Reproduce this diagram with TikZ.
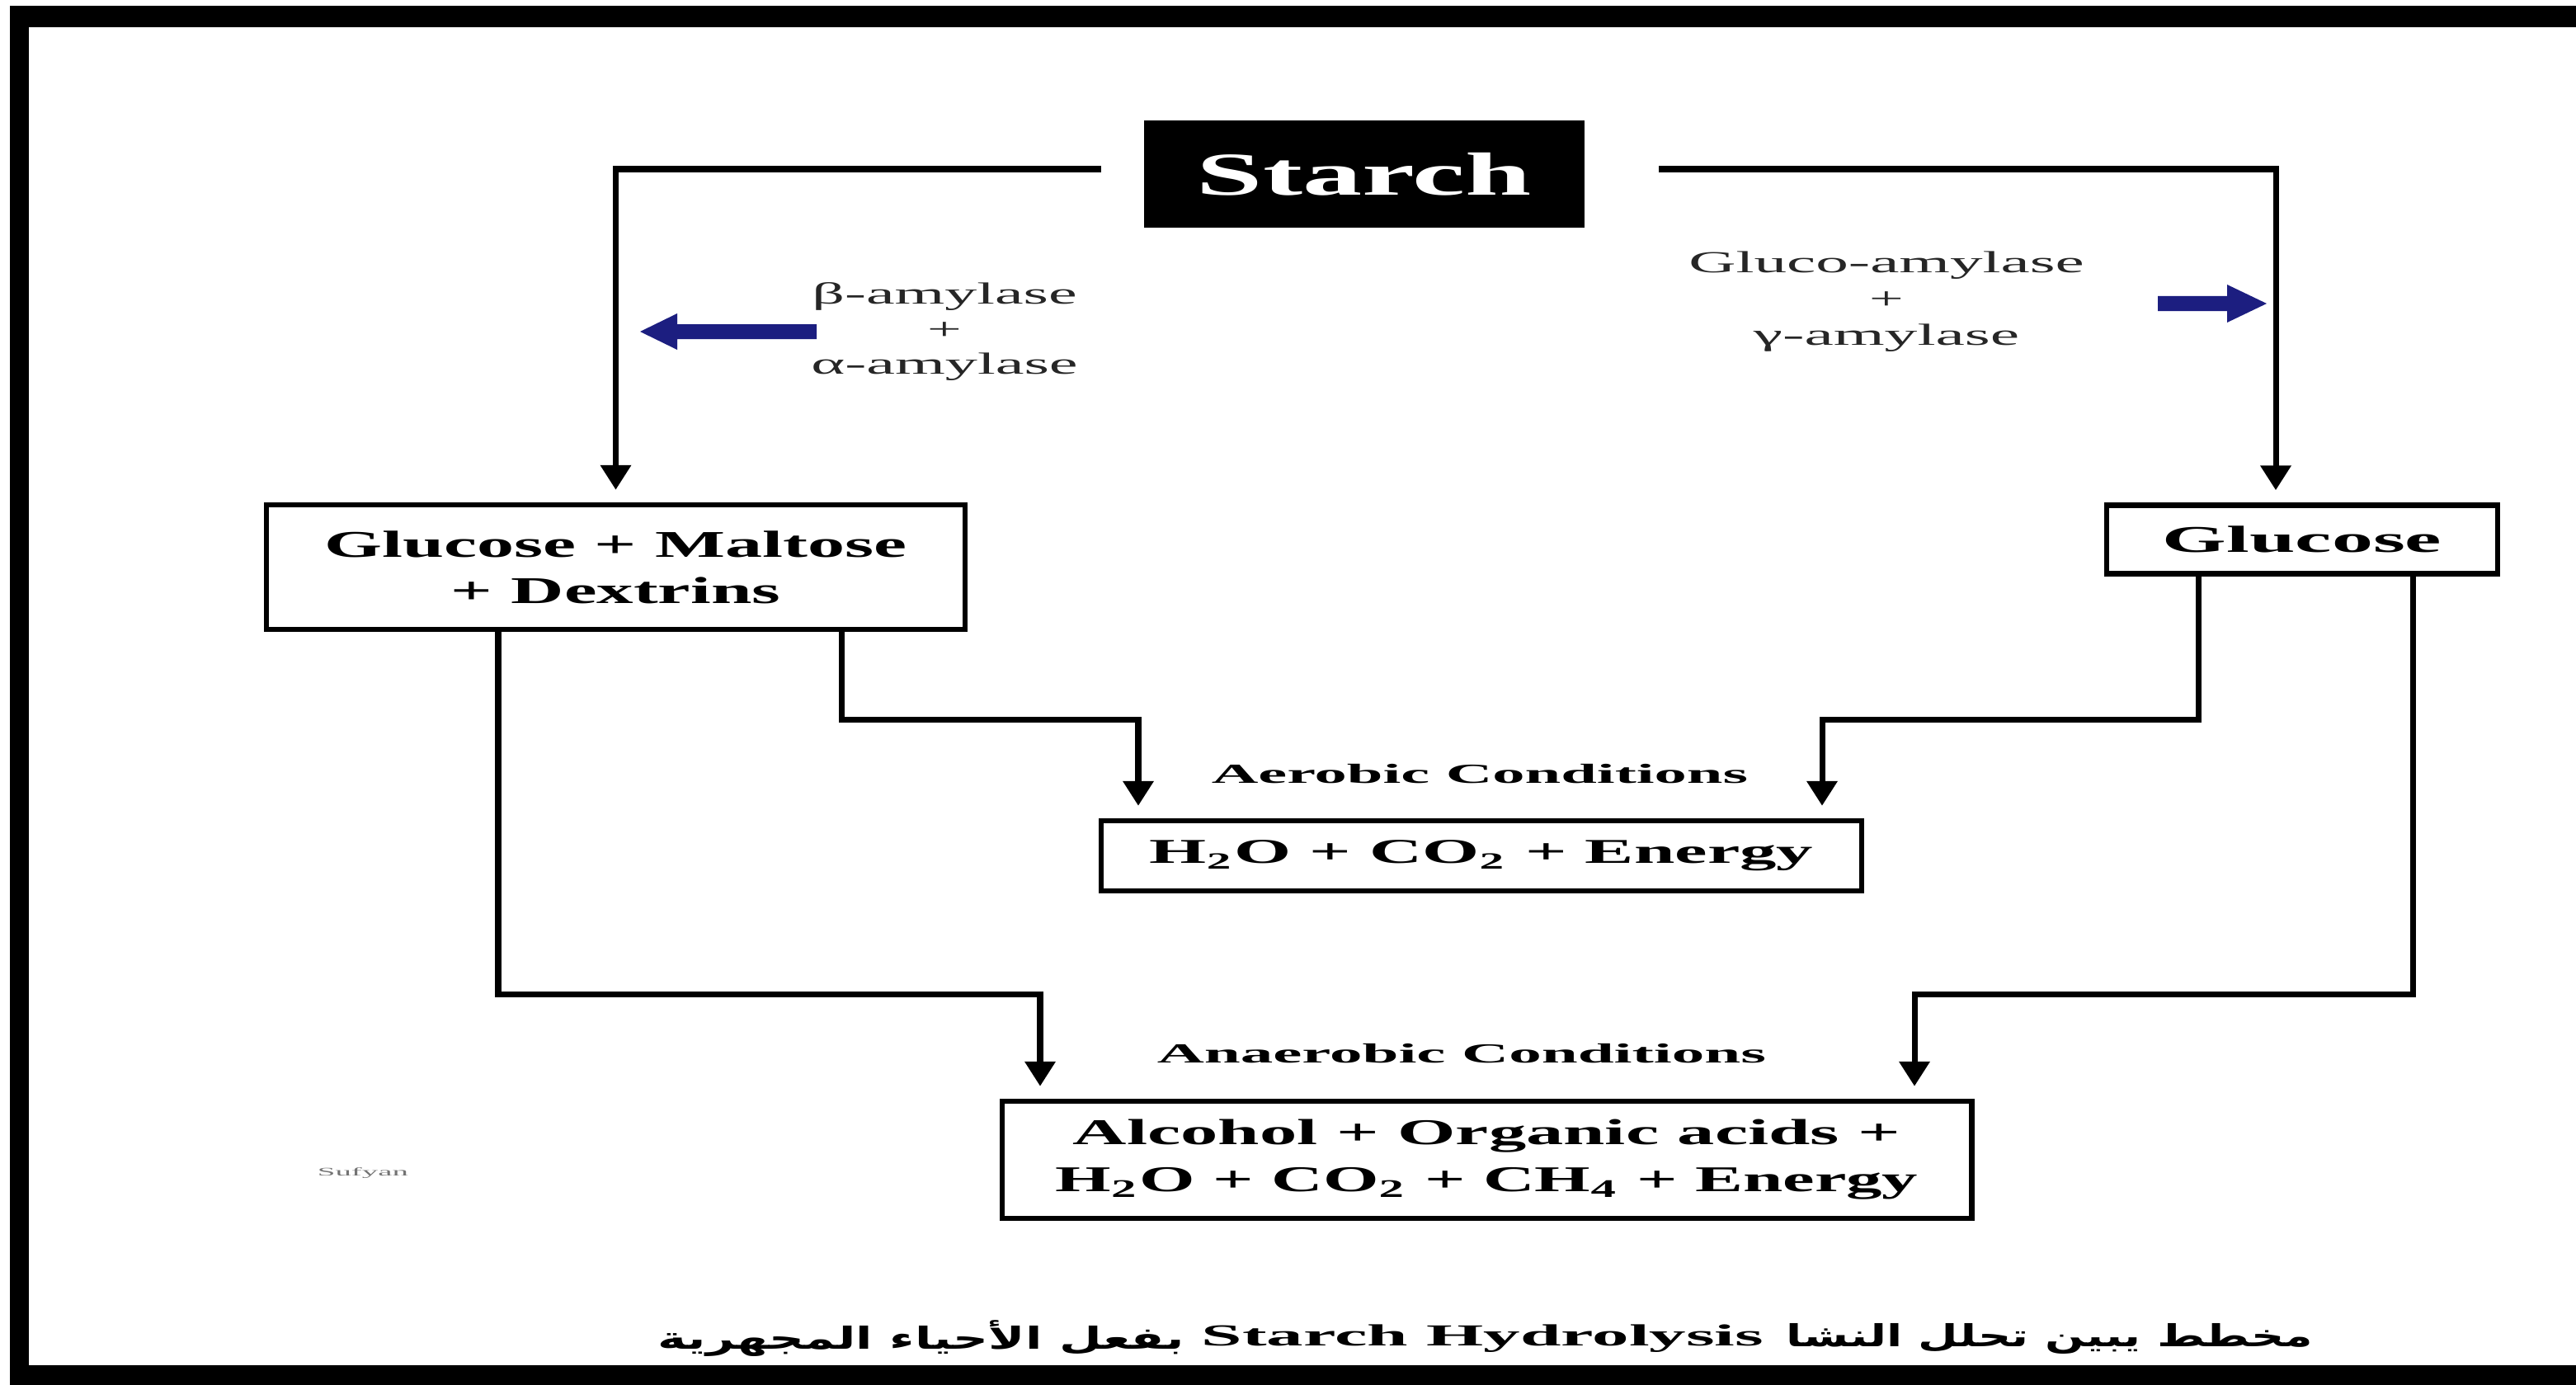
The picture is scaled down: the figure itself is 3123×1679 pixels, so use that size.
\documentclass[tikz,border=0pt]{standalone}
\usepackage{fontspec}
\usepackage{graphicx}
\setmainfont{Liberation Serif}
\newfontfamily\arabicfont[Script=Arabic]{DejaVu Sans}
\TeXXeTstate=1
\usetikzlibrary{arrows.meta,calc}
\definecolor{navyarrow}{RGB}{28,30,128}
\newcommand\fitw[2]{\resizebox{#1}{\height}{#2}}
\newcommand\capfont{\arabicfont\bfseries\fontsize{10.5}{12}\selectfont}
\newlength\capwL
\newlength\capwR
\begin{document}
\settowidth\capwL{\capfont\beginR بفعل الأحياء المجهرية\endR}%
\settowidth\capwR{\capfont\beginR مخطط يبين تحلل النشا\endR}%
\ifdim\capwL<1pt \setlength\capwL{6.38cm}\fi
\ifdim\capwR<1pt \setlength\capwR{6.38cm}\fi
\begin{tikzpicture}[x=0.01cm,y=-0.01cm,
  box/.style={draw=black,line width=1.8pt,inner sep=0pt},
  conn/.style={line width=2pt,-{Triangle[width=0.36cm,length=0.3cm]},shorten >=0.15cm},
  enz/.style={align=center,inner sep=0pt,text=black!85},
  cond/.style={inner sep=0pt,font=\bfseries\fontsize{9.5}{11}\selectfont}]
\useasboundingbox (0,0) rectangle (3123,1679);
\fill[white] (0,0) rectangle (3123,1679);
% frame
\fill[black] (12,7) rectangle (3123,33);
\fill[black] (12,7) rectangle (35,1679);
\fill[black] (12,1655) rectangle (3123,1679);

% boxes
\node[box,fill=black,minimum width=5.28cm,minimum height=1.24cm,
      font=\bfseries\fontsize{21}{25}\selectfont,text=white] (starch) at (1654,211) {\fitw{4.06cm}{Starch}};
\node[box,minimum width=8.47cm,minimum height=1.51cm,align=center,
      font=\bfseries\fontsize{13}{15.9}\selectfont] (gm) at (746.5,687.5)
      {\fitw{7.06cm}{Glucose + Maltose}\\\fitw{3.99cm}{+ Dextrins}};
\node[box,minimum width=4.74cm,minimum height=0.83cm,
      font=\bfseries\fontsize{13}{15}\selectfont] (glu) at (2791,654) {\fitw{3.38cm}{Glucose}};
\node[box,minimum width=9.22cm,minimum height=0.85cm,
      font=\bfseries\fontsize{12}{14}\selectfont] (aer) at (1796,1037.5)
      {\fitw{8.04cm}{H\textsubscript{2}O + CO\textsubscript{2} + Energy}};
\node[box,minimum width=11.75cm,minimum height=1.42cm,align=center,
      font=\bfseries\fontsize{12.5}{16.2}\selectfont] (an) at (1802.5,1406)
      {\fitw{10.03cm}{Alcohol + Organic acids +}\\\fitw{10.45cm}{H\textsubscript{2}O + CO\textsubscript{2} + CH\textsubscript{4} + Energy}};

% condition labels
\node[cond] (aerlbl) at (1794,938) {\fitw{6.5cm}{Aerobic Conditions}};
\node[cond] (anlbl) at (1772,1277) {\fitw{7.38cm}{Anaerobic Conditions}};

% enzyme labels
\node[enz,font=\fontsize{10.5}{12}\selectfont] (enzL) at (1145,402)
  {\fitw{3.21cm}{β-amylase}\\\scalebox{2}[1]{+}\\\fitw{3.23cm}{α-amylase}};
\node[enz,font=\fontsize{10.5}{12.5}\selectfont] (enzR) at (2287,366)
  {\fitw{4.79cm}{Gluco-amylase}\\\scalebox{2}[1]{+}\\\fitw{3.22cm}{γ-amylase}};

% blue arrows
\fill[navyarrow] (776,402) -- (821,380) -- (821,393) -- (990,393) -- (990,411) -- (821,411) -- (821,424) -- cycle;
\fill[navyarrow] (2748,368) -- (2700,345) -- (2700,359) -- (2616,359) -- (2616,377) -- (2700,377) -- (2700,391) -- cycle;

% connectors
\draw[conn] ($(starch.west)+(-52,-6)$) -| (gm.north);
\draw[conn] ($(starch.east)+(90,-6)$) -| ($(glu.north)+(-32,0)$);
\draw[conn] ($(gm.south)+(274,0)$) |- ($(aer.north)+(-416,-119)$) -- ($(aer.north)+(-416,0)$);
\draw[conn] ($(glu.south)+(-126,0)$) |- ($(aer.north)+(413,-119)$) -- ($(aer.north)+(413,0)$);
\draw[conn] ($(gm.south)+(-142.5,0)$) |- ($(an.north)+(-541.5,-126)$) -- ($(an.north)+(-541.5,0)$);
\draw[conn] ($(glu.south)+(134,0)$) |- ($(an.north)+(518.5,-126)$) -- ($(an.north)+(518.5,0)$);

% signature
\node[text=black!55,inner sep=0pt,font=\fontsize{4}{5}\selectfont] (sig) at (440,1422) {\fitw{1.1cm}{Sufyan}};

% caption
\pgfmathsetmacro\capsL{6.38cm/\capwL}
\pgfmathsetmacro\capsR{6.38cm/\capwR}
\node[inner sep=0pt,xscale=\capsL,transform shape,font=\capfont] (captL) at (1117,1623)
  {\beginR بفعل الأحياء المجهرية\endR};
\node[inner sep=0pt,font=\bfseries\fontsize{10.5}{12}\selectfont] (captM) at (1797.5,1623)
  {\fitw{6.81cm}{Starch Hydrolysis}};
\node[inner sep=0pt,xscale=\capsR,transform shape,font=\capfont] (captR) at (2485,1623)
  {\beginR مخطط يبين تحلل النشا\endR};
\end{tikzpicture}
\end{document}
